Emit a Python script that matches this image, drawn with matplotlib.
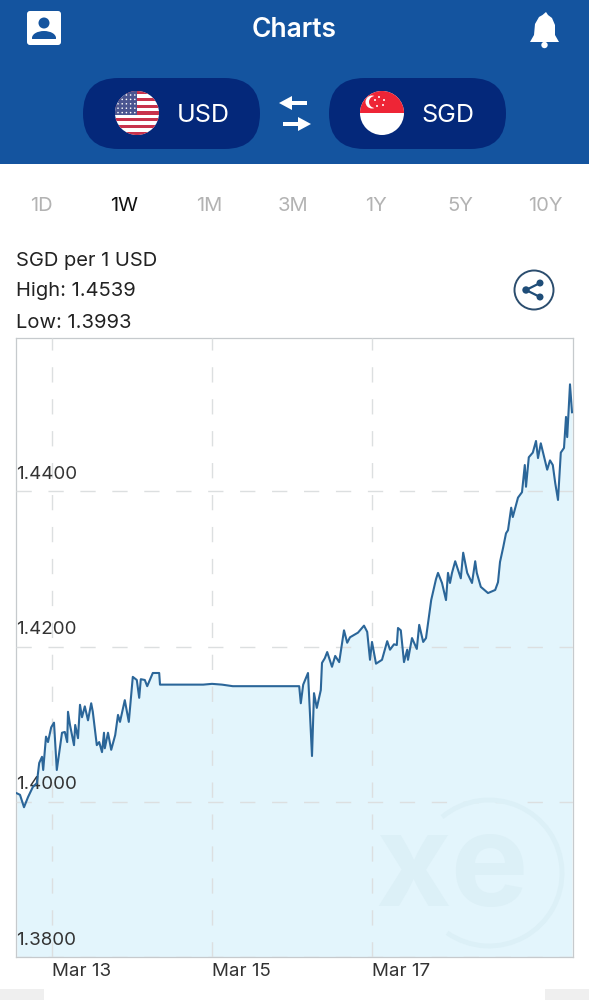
import matplotlib
matplotlib.use("Agg")
import matplotlib.pyplot as plt
from matplotlib.patches import Arc, Circle, Ellipse, FancyBboxPatch, Polygon, Rectangle
from matplotlib.transforms import ScaledTranslation

plt.rcParams["font.family"] = ["Inter", "DejaVu Sans"]

# Exchange rate, x in days of March
day = [12.56, 12.60, 12.65, 12.70, 12.76, 12.81, 12.84, 12.875, 12.89, 12.925, 12.95, 12.99, 13.025, 13.06,
       13.125, 13.16, 13.19, 13.20, 13.225, 13.275, 13.29, 13.325, 13.35, 13.375, 13.41, 13.45, 13.49, 13.51,
       13.56, 13.59, 13.625, 13.65, 13.66, 13.70, 13.74, 13.79, 13.825, 13.85, 13.91, 13.96, 14.01, 14.06,
       14.09, 14.11, 14.16, 14.19, 14.26, 14.34, 14.35, 14.89, 15.00, 15.125, 15.26, 16.09,
       16.11, 16.14, 16.20, 16.25, 16.275, 16.31, 16.36, 16.375, 16.41, 16.44, 16.50, 16.54, 16.59, 16.65,
       16.69, 16.725, 16.825, 16.90, 16.94, 16.975, 17.00, 17.05, 17.125, 17.19, 17.225, 17.275, 17.31, 17.325,
       17.36, 17.40, 17.44, 17.45, 17.50, 17.56, 17.59, 17.64, 17.675, 17.74, 17.80,
       17.825, 17.875, 17.925, 17.95, 17.975, 18.00, 18.04, 18.11, 18.14, 18.19, 18.25, 18.29, 18.31, 18.36,
       18.45, 18.54, 18.575, 18.60, 18.64, 18.675, 18.70, 18.74, 18.76, 18.825, 18.875, 18.91, 18.925, 18.96,
       19.01, 19.05, 19.075, 19.11, 19.19, 19.225, 19.26, 19.29, 19.325, 19.36, 19.40, 19.425, 19.44, 19.475, 19.50]
rate = [1.4011, 1.4009, 1.3993, 1.4006, 1.4019, 1.4024, 1.4050, 1.4058, 1.4041, 1.4084, 1.4077, 1.4096, 1.4102, 1.4041,
        1.4089, 1.4090, 1.4077, 1.4116, 1.4099, 1.4073, 1.4099, 1.4082, 1.4125, 1.4109, 1.4123, 1.4105, 1.4127, 1.4116,
        1.4073, 1.4077, 1.4064, 1.4089, 1.4069, 1.4089, 1.4067, 1.4086, 1.4112, 1.4103, 1.4131, 1.4103, 1.4161, 1.4157,
        1.4134, 1.4158, 1.4157, 1.4149, 1.4166, 1.4166, 1.4151, 1.4151, 1.4152, 1.4151, 1.4149, 1.4149,
        1.4127, 1.4151, 1.4166, 1.4059, 1.4140, 1.4121, 1.4144, 1.4179, 1.4185, 1.4193, 1.4174, 1.4188, 1.4180, 1.4221,
        1.4205, 1.4212, 1.4218, 1.4227, 1.4219, 1.4183, 1.4206, 1.4178, 1.4183, 1.4207, 1.4196, 1.4203, 1.4202, 1.4224,
        1.4221, 1.4180, 1.4196, 1.4183, 1.4211, 1.4197, 1.4228, 1.4206, 1.4211, 1.4260, 1.4287,
        1.4295, 1.4282, 1.4260, 1.4295, 1.4282, 1.4295, 1.4310, 1.4288, 1.4321, 1.4295, 1.4282, 1.4310, 1.4295, 1.4277,
        1.4269, 1.4273, 1.4283, 1.4309, 1.4328, 1.4346, 1.4350, 1.4379, 1.4367, 1.4392, 1.4399, 1.4434, 1.4406, 1.4444,
        1.4450, 1.4465, 1.4443, 1.4462, 1.4428, 1.4440, 1.4434, 1.4411, 1.4389, 1.4450, 1.4456, 1.4496, 1.4470, 1.4538, 1.4502]

x_ticks = [13, 15, 17]
x_labels = ["Mar 13", "Mar 15", "Mar 17"]
y_ticks = [1.38, 1.40, 1.42, 1.44]
y_labels = ["1.3800", "1.4000", "1.4200", "1.4400"]
ranges = ["1D", "1W", "1M", "3M", "1Y", "5Y", "10Y"]
info_lines = ["SGD per 1 USD", "High: 1.4539", "Low: 1.3993"]

W, H = 589, 1000
BLUE = "#14549f"
NAVY = "#04287a"
TEXT = "#222222"

fig = plt.figure(figsize=(W / 100, H / 100), dpi=100, facecolor="white")

# Chart
ax = fig.add_axes([16 / W, 1 - 957 / H, 557 / W, 619 / H])
ax.fill_between(day, rate, 1.38, color="#e3f5fc", lw=0, zorder=1)
ax.plot(day, rate, color="#2b6699", lw=1.5, zorder=3)
ax.set_xlim(12.55, 19.5125)
ax.set_ylim(1.38, 1.45977)
ax.set_xticks(x_ticks, x_labels)
ax.set_yticks(y_ticks, y_labels)
ax.grid(True, color="#dcdfe0", lw=1, linestyle=(0, (11, 12)), zorder=2)
ax.set_axisbelow(False)
ax.tick_params(length=0, labelsize=13.5, labelcolor="#333333")
ax.tick_params(axis="y", pad=0)
ax.tick_params(axis="x", pad=4)
for s in ax.spines.values():
    s.set_color("#c6cacd")
    s.set_linewidth(0.9)
for t in ax.get_xticklabels():
    t.set_ha("left")
for t in ax.get_yticklabels():
    t.set_ha("left")
    t.set_va("bottom")
    t.set_transform(t.get_transform() + ScaledTranslation(0, 6 / 72, fig.dpi_scale_trans))

# Everything around the chart, drawn in pixel coordinates
ui = fig.add_axes([0, 0, 1, 1], zorder=5)
ui.set_xlim(0, W)
ui.set_ylim(H, 0)
ui.axis("off")

ui.add_patch(Rectangle((0, 0), W, 164, color=BLUE, lw=0))
ui.add_patch(Rectangle((0, 989), 44, 11, color="#efefef", lw=0))
ui.add_patch(Rectangle((545, 989), 44, 11, color="#efefef", lw=0))
ui.text(294.5, 30, "Charts", color="white", fontsize=19, fontweight="semibold", ha="center", va="center")

# Profile icon
ui.add_patch(FancyBboxPatch((29, 13), 30, 30, boxstyle="round,pad=2,rounding_size=3", fc="white", lw=0))
ui.add_patch(Circle((44, 23), 5.5, fc=BLUE, lw=0))
body = Ellipse((44, 38), 24, 14, fc=BLUE, lw=0)
ui.add_patch(body)
body.set_clip_path(Rectangle((30, 30), 28, 9, transform=ui.transData))

# Bell icon
ui.add_patch(Polygon([(530, 42), (534, 35), (535, 24), (539, 17), (542.5, 15), (546, 12), (548, 15), (552, 18),
                      (555, 25), (555, 35), (559, 42)], fc="white", lw=0))
ui.add_patch(Circle((544.5, 45), 3.2, fc="white", lw=0))

# Currency pills
for x0, code, tx in [(83, "USD", 203), (329, "SGD", 448)]:
    ui.add_patch(FancyBboxPatch((x0, 78), 177, 71, boxstyle="round,pad=0,rounding_size=35.5", fc=NAVY, lw=0))
    ui.text(tx, 115, code, color="white", fontsize=18, ha="center", va="center")

# US flag
us_clip = Circle((137, 113), 22, transform=ui.transData)
ui.add_patch(Circle((137, 113), 22, fc="white", lw=0))
stripe_h = 44 / 13
for i in range(0, 13, 2):
    p = Rectangle((115, 91 + i * stripe_h), 44, stripe_h, fc="#c8324c", lw=0)
    ui.add_patch(p)
    p.set_clip_path(us_clip)
p = Rectangle((115, 91), 22, 24, fc="#4a5590", lw=0)
ui.add_patch(p)
p.set_clip_path(us_clip)
for r in range(5):
    for c in range(5):
        p = Circle((118 + c * 4.2, 95 + r * 4.4), 0.8, fc="white", lw=0)
        ui.add_patch(p)
        p.set_clip_path(us_clip)

# Singapore flag
ui.add_patch(Circle((382, 113), 22, fc="white", lw=0))
sg_clip = Circle((382, 113), 22, transform=ui.transData)
p = Rectangle((360, 91), 44, 22, fc="#ee2536", lw=0)
ui.add_patch(p)
p.set_clip_path(sg_clip)
ui.add_patch(Circle((372, 102), 6.5, fc="white", lw=0))
ui.add_patch(Circle((375, 102), 6, fc="#ee2536", lw=0))
for cx, cy in [(379, 97), (384, 100), (383, 105), (377, 106), (375, 100)]:
    ui.add_patch(Circle((cx, cy), 1, fc="white", lw=0))

# Swap arrows
ui.add_patch(Polygon([(279, 103), (292, 96), (292, 101), (307, 101), (307, 105), (292, 105), (292, 110)], fc="white", lw=0))
ui.add_patch(Polygon([(311, 124), (298, 117), (298, 122), (283, 122), (283, 126), (298, 126), (298, 131)], fc="white", lw=0))

# Range tabs
for name, x in zip(ranges, [41, 124, 209, 293, 376, 460, 545]):
    ui.text(x, 206, name, color="#111111" if name == "1W" else "#b3b3b3", fontsize=14.5, ha="center", va="center")

# Info lines
for line, y in zip(info_lines, [260.5, 291.5, 322.5]):
    ui.text(16, y, line, color=TEXT, fontsize=14.5, ha="left", va="center")

# Share button
ui.add_patch(Circle((534, 290), 19.5, fc="white", ec="#2b4d6e", lw=1.4))
ui.plot([540, 526, 540], [283, 290, 297], color="#1f4d78", lw=1.6)
for cx, cy, r in [(540, 283, 3.5), (526, 290, 3.7), (540, 297, 3.5)]:
    ui.add_patch(Circle((cx, cy), r, fc="#1f4d78", lw=0))

# Watermark
ui.add_patch(Arc((489, 873), 146, 146, angle=0, theta1=-130, theta2=125, color="#dcf0f7", lw=3.5))
ui.text(452, 872, "xe", color="#dcf0f7", fontsize=94, fontweight="bold", ha="center", va="center")

fig.savefig("out.png", dpi=100)
